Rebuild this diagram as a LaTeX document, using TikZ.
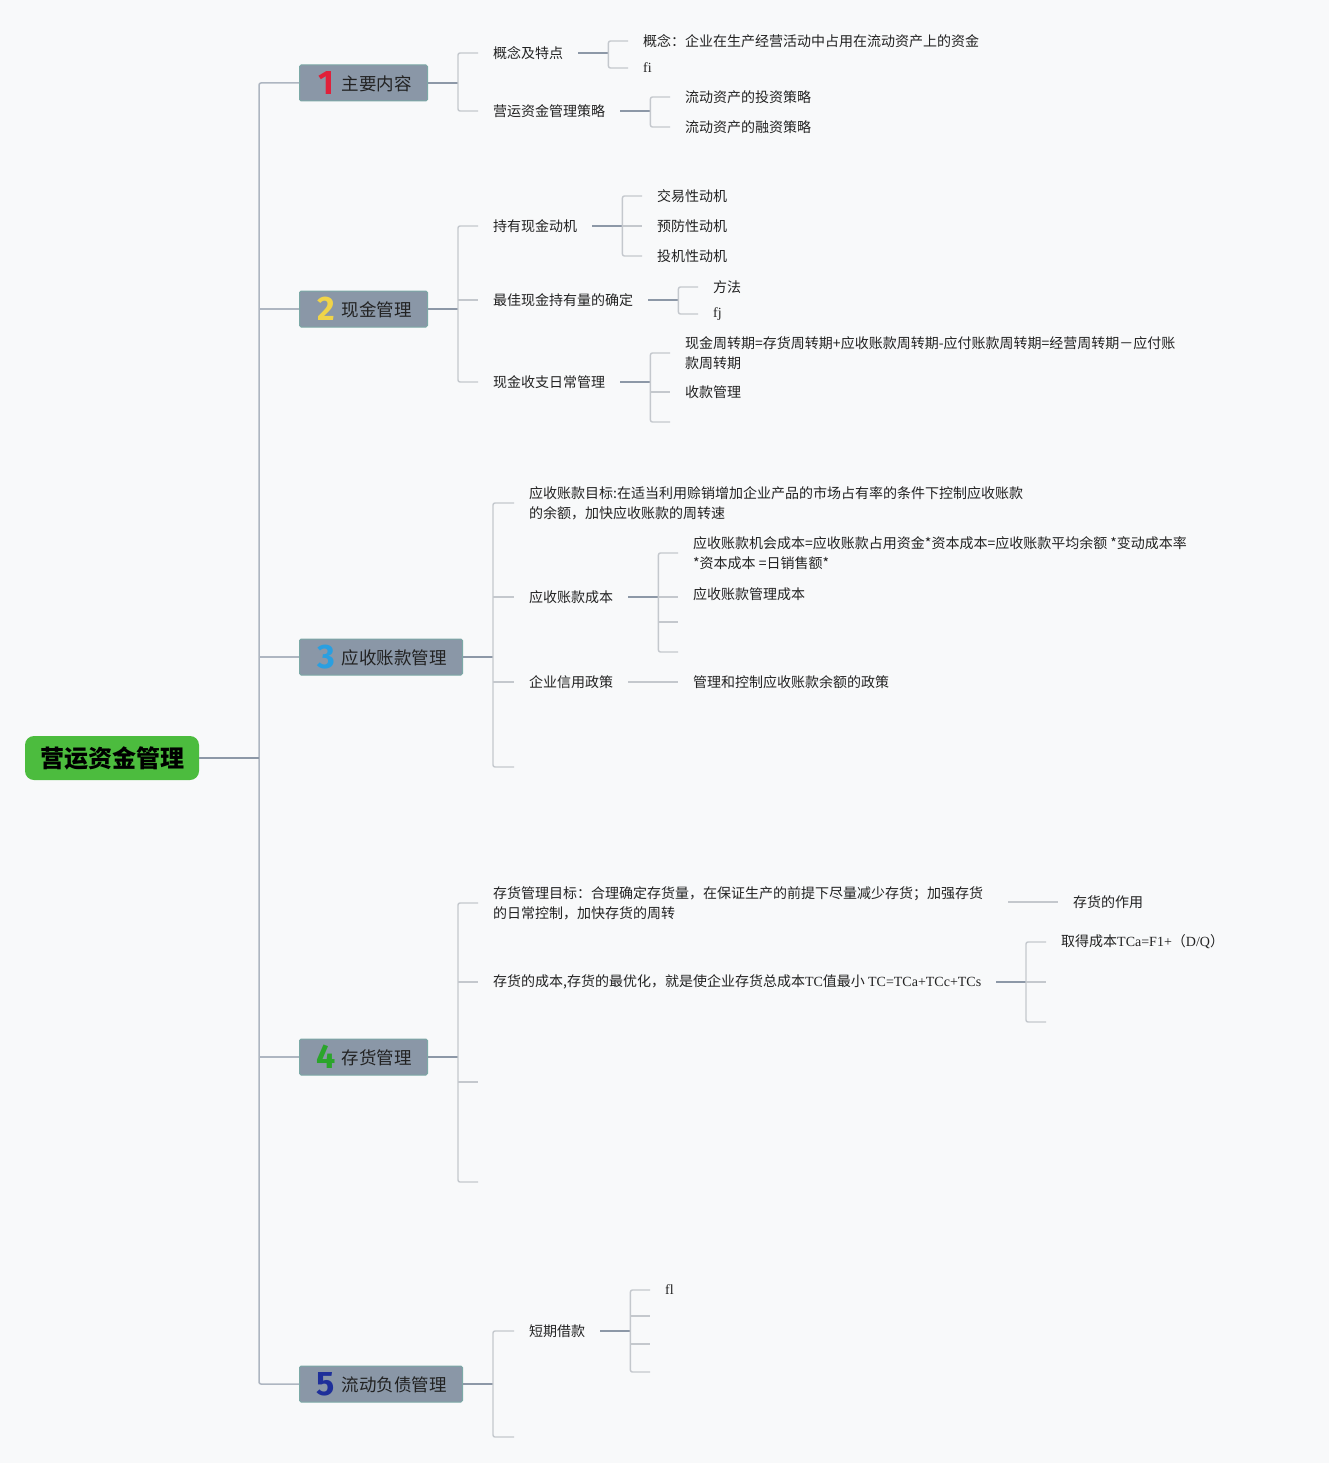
\documentclass[tikz,border=0pt]{standalone}
\usepackage{fontspec}
\setmainfont{Noto Sans CJK SC}
\newfontfamily\latin{Liberation Serif}
\newfontfamily\numfont{Fira Sans}
\usepackage{tikz}

\definecolor{bgcol}{HTML}{F8F9FA}
\definecolor{rootgreen}{HTML}{4CBC3E}
\definecolor{catfill}{HTML}{8A97A7}
\definecolor{catline}{HTML}{7CA9A6}
\definecolor{linkcol}{HTML}{8D98A7}
\definecolor{brcol}{HTML}{C4C8CD}
\definecolor{trunkcol}{HTML}{AEB6C1}
\definecolor{txt}{HTML}{222222}
\definecolor{num1}{HTML}{E0203A}
\definecolor{num2}{HTML}{F0D449}
\definecolor{num3}{HTML}{2A9FE0}
\definecolor{num4}{HTML}{2BA52B}
\definecolor{num5}{HTML}{1E2F9A}

\newcommand{\catnum}[2]{\raisebox{-4pt}{\makebox[21pt][c]{\numfont\bfseries\fontsize{34}{34}\selectfont\color{#1}#2}}\hspace{5pt}}

\tikzset{
  rootbox/.style={fill=rootgreen, rounded corners=9pt, minimum width=174pt, minimum height=44pt,
    font=\fontsize{24}{24}\selectfont\bfseries, text=black},
  catbox/.style={draw=catline, line width=1pt, fill=catfill, rounded corners=1.5pt, anchor=west,
    minimum height=36pt, inner xsep=16pt, inner ysep=2pt, font=\fontsize{17.5}{20}\selectfont, text=txt},
  leaf/.style={anchor=west, inner xsep=15pt, inner ysep=1pt, align=left,
    font=\fontsize{14}{20}\selectfont, text=txt},
  link/.style={draw=linkcol, line width=1.6pt},
  bracket/.style={draw=brcol, line width=1.4pt, rounded corners=2pt},
  trunk/.style={draw=trunkcol, line width=1.5pt, rounded corners=2pt}
}

\begin{document}
\begin{tikzpicture}[x=1pt, y=-1pt]

  \fill[bgcol] (0,0) rectangle (1329,1463);
  \useasboundingbox (0,0) rectangle (1329,1463);

  % Root and main branches
  \node[rootbox] (root) at (112,758) {营运资金管理};
  \node[catbox] (main) at (299,83) {\catnum{num1}{1}主要内容};
  \node[catbox] (cash) at (299,309) {\catnum{num2}{2}现金管理};
  \node[catbox] (recv) at (299,657) {\catnum{num3}{3}应收账款管理};
  \node[catbox] (stock) at (299,1057) {\catnum{num4}{4}存货管理};
  \node[catbox] (debt) at (299,1384) {\catnum{num5}{5}流动负债管理};
  \coordinate (trunk) at (259,758);
  \draw[trunk] (main.west) -| (trunk) |- (debt.west);
  \foreach \c in {cash,recv,stock}
    \draw[trunk] (trunk |- \c.west) -- (\c.west);
  \draw[link] (root.east) -- (trunk);

  % 1 主要内容
  \node[leaf] (concept) at (478,53) {概念及特点};
  \node[leaf] (strategy) at (478,111) {营运资金管理策略};
  \node[leaf] (concept1) at (628,41) {概念：企业在生产经营活动中占用在流动资产上的资金};
  \node[leaf] (concept2) at (628,68) {\latin fi};
  \node[leaf] (strategy1) at (670,97) {流动资产的投资策略};
  \node[leaf] (strategy2) at (670,127) {流动资产的融资策略};
  \draw[link] (main.east) -- ++(30,0) coordinate (jmain);
  \draw[bracket] (concept.west) -| (jmain) |- (strategy.west);
  \draw[link] (concept.east) -- ++(30,0) coordinate (jconcept);
  \draw[bracket] (concept1.west) -| (jconcept) |- (concept2.west);
  \draw[link] (strategy.east) -- ++(30,0) coordinate (jstrategy);
  \draw[bracket] (strategy1.west) -| (jstrategy) |- (strategy2.west);

  % 2 现金管理
  \node[leaf] (motive) at (478,226) {持有现金动机};
  \node[leaf] (optimal) at (478,300) {最佳现金持有量的确定};
  \node[leaf] (daily) at (478,382) {现金收支日常管理};
  \node[leaf] (motive1) at (642,196) {交易性动机};
  \node[leaf] (motive2) at (642,226) {预防性动机};
  \node[leaf] (motive3) at (642,256) {投机性动机};
  \node[leaf] (optimal1) at (698,287) {方法};
  \node[leaf] (optimal2) at (698,314) {\latin fj};
  \node[leaf] (daily1) at (670,353) {现金周转期=存货周转期+应收账款周转期-应付账款周转期=经营周转期－应付账\\款周转期};
  \node[leaf] (daily2) at (670,392) {收款管理};
  \coordinate (daily3) at (670,422);
  \draw[link] (cash.east) -- ++(30,0) coordinate (jcash);
  \draw[bracket] (motive.west) -| (jcash) |- (daily.west);
  \draw[bracket] (jcash |- optimal.west) -- (optimal.west);
  \draw[link] (motive.east) -- ++(30,0) coordinate (jmotive);
  \draw[bracket] (motive1.west) -| (jmotive) |- (motive3.west);
  \draw[bracket] (jmotive) -- (motive2.west);
  \draw[link] (optimal.east) -- ++(30,0) coordinate (joptimal);
  \draw[bracket] (optimal1.west) -| (joptimal) |- (optimal2.west);
  \draw[link] (daily.east) -- ++(30,0) coordinate (jdaily);
  \draw[bracket] (daily1.west) -| (jdaily) |- (daily3);
  \draw[bracket] (jdaily |- daily2.west) -- (daily2.west);

  % 3 应收账款管理
  \node[leaf] (rgoal) at (514,503) {应收账款目标:在适当利用赊销增加企业产品的市场占有率的条件下控制应收账款\\的余额，加快应收账款的周转速};
  \node[leaf] (rcost) at (514,597) {应收账款成本};
  \node[leaf] (credit) at (514,682) {企业信用政策};
  \coordinate (rempty) at (514,767);
  \node[leaf] (rcost1) at (678,553) {应收账款机会成本=应收账款占用资金*资本成本=应收账款平均余额 *变动成本率\\*资本成本 =日销售额*};
  \node[leaf] (rcost2) at (678,594) {应收账款管理成本};
  \coordinate (rcost3) at (678,622);
  \coordinate (rcost4) at (678,652);
  \node[leaf] (credit1) at (678,682) {管理和控制应收账款余额的政策};
  \draw[link] (recv.east) -- ++(30,0) coordinate (jrecv);
  \draw[bracket] (rgoal.west) -| (jrecv) |- (rempty);
  \foreach \c in {rcost,credit}
    \draw[bracket] (jrecv |- \c.west) -- (\c.west);
  \draw[link] (rcost.east) -- ++(30,0) coordinate (jrcost);
  \draw[bracket] (rcost1.west) -| (jrcost) |- (rcost4);
  \draw[bracket] (jrcost) -- (rcost2.west |- jrcost);
  \draw[bracket] (jrcost |- rcost3) -- (rcost3);
  \draw[bracket] (credit.east) -- (credit1.west);

  % 4 存货管理
  \node[leaf] (sgoal) at (478,903) {存货管理目标：合理确定存货量，在保证生产的前提下尽量减少存货；加强存货\\的日常控制，加快存货的周转};
  \node[leaf] (scost) at (478,982) {存货的成本,存货的最优化，就是使企业存货总成本{\latin TC}值最小 {\latin TC=TCa+TCc+TCs}};
  \coordinate (sempty1) at (478,1082);
  \coordinate (sempty2) at (478,1182);
  \node[leaf] (sgoal1) at (1058,902) {存货的作用};
  \node[leaf] (scost1) at (1046,942) {取得成本{\latin TCa=F1+}（{\latin D/Q}）};
  \coordinate (scost2) at (1046,982);
  \coordinate (scost3) at (1046,1022);
  \draw[link] (stock.east) -- ++(30,0) coordinate (jstock);
  \draw[bracket] (sgoal.west) -| (jstock) |- (sempty2);
  \draw[bracket] (jstock |- scost.west) -- (scost.west);
  \draw[bracket] (jstock |- sempty1) -- (sempty1);
  \draw[bracket] (sgoal.east |- sgoal1.west) ++(10,0) -- (sgoal1.west);
  \draw[link] (scost.east) -- (scost.east -| scost1.west) ++(-20,0) coordinate (jscost);
  \draw[bracket] (scost1.west) -| (jscost) |- (scost3);
  \draw[bracket] (jscost) -- (scost2);

  % 5 流动负债管理
  \node[leaf] (loan) at (514,1331) {短期借款};
  \coordinate (dempty) at (514,1437);
  \node[leaf] (loan1) at (650,1290) {\latin fl};
  \coordinate (loan2) at (650,1316);
  \coordinate (loan3) at (650,1344);
  \coordinate (loan4) at (650,1372);
  \draw[link] (debt.east) -- ++(30,0) coordinate (jdebt);
  \draw[bracket] (loan.west) -| (jdebt) |- (dempty);
  \draw[link] (loan.east) -- ++(30,0) coordinate (jloan);
  \draw[bracket] (loan1.west) -| (jloan) |- (loan4);
  \foreach \c in {loan2,loan3}
    \draw[bracket] (jloan |- \c) -- (\c);

\end{tikzpicture}
\end{document}
